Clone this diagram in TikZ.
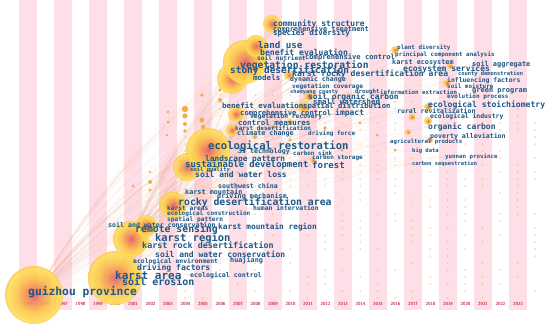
\documentclass[tikz,border=0pt]{standalone}
\usepackage{fontspec}
\setmonofont{DejaVu Sans Mono}
\definecolor{txt}{RGB}{28,88,136}
\definecolor{stripe}{RGB}{255,223,231}
\definecolor{yr}{RGB}{205,45,65}
\definecolor{lnk}{RGB}{240,160,130}
\definecolor{dotc}{RGB}{240,175,70}
\definecolor{cA}{RGB}{228,85,105}
\definecolor{cB}{RGB}{242,135,80}
\definecolor{cC}{RGB}{252,195,70}
\definecolor{cD}{RGB}{255,222,85}
\definecolor{cE}{RGB}{250,200,90}
\pgfdeclareradialshading{cnode}{\pgfpointorigin}{color(0bp)=(cA); color(6bp)=(cB); color(15bp)=(cC); color(23bp)=(cD); color(25bp)=(cE); color(50bp)=(cE)}
\pgfdeclarelayer{stripes}
\pgfdeclarelayer{links}
\pgfsetlayers{stripes,links,main}
\newcommand\kfont[1]{\fontsize{#1}{#1}\selectfont\ttfamily\bfseries}
\newcommand\kw[5]{\node[kw,font=\kfont{#4}] (#1) at (#2,#3) {#5};}
\tikzset{
  kw/.style={text=txt, inner sep=0pt, anchor=west},
  cnode/.style={circle, inner sep=0pt, shading=cnode, fill opacity=0.88, draw=none},
  yrlab/.style={text=yr, inner sep=0pt, font=\fontsize{4.5}{4.5}\selectfont\sffamily\bfseries},
  link/.style={draw=lnk, draw opacity=0.2, line width=0.3pt},
  farlink/.style={draw=lnk, draw opacity=0.1, line width=0.3pt},
  dot/.style={fill=dotc, fill opacity=0.85}
}
\begin{document}
\begin{tikzpicture}[x=1pt,y=-1pt]
\useasboundingbox (0,0) rectangle (550,324);
\begin{pgfonlayer}{stripes}
\fill[white] (0,0) rectangle (550,324);
\foreach \yy in {1995,1997,...,2023} {
  \fill[stripe] ({28+(\yy-1995)*17.5-8.75},0) rectangle ({28+(\yy-1995)*17.5+8.75},310);
}
\foreach \yy in {1995,...,2023} {
  \node[yrlab] (y\yy) at ({28+(\yy-1995)*17.5},304) {\yy};
}
\end{pgfonlayer}
% circle nodes
\node[cnode, minimum size=58] (cgz) at (34,295) {};
\node[cnode, minimum size=54] (cka) at (115,278) {};
\node[cnode, minimum size=36] (ckr) at (131,239) {};
\node[cnode, minimum size=22] (ckr2) at (146,226) {};
\node[cnode, minimum size=27] (crd) at (173,205) {};
\node[cnode, minimum size=28] (csd) at (187,167) {};
\node[cnode, minimum size=44] (cer) at (208,150) {};
\node[cnode, minimum size=30] (clu3) at (232,79) {};
\node[cnode, minimum size=44] (clu) at (245,62) {};
\node[cnode, minimum size=22] (clu2) at (256,46) {};
\node[cnode, minimum size=18] (ccs) at (272,24) {};
\node[cnode, minimum size=16] (cbe) at (236,114) {};
\node[cnode, minimum size=12] (ccm) at (232,130) {};
\node[cnode, minimum size=10] (ckrd) at (289,75) {};
\node[cnode, minimum size=10] (csoc) at (309,96) {};
\node[cnode, minimum size=12] (csdi) at (304,107) {};
\node[cnode, minimum size=8] (cpd) at (395,50) {};
\node[cnode, minimum size=6] (csa) at (450,66) {};
\node[cnode, minimum size=8] (cif) at (447,83) {};
\node[cnode, minimum size=8] (cest) at (428,107) {};
\node[cnode, minimum size=8] (coc) at (428,121) {};
\node[cnode, minimum size=6] (cpa) at (430,140) {};
\node[cnode, minimum size=7] (crr) at (412,117) {};
\node[cnode, minimum size=6] (cap) at (408,132) {};
\node[cnode, minimum size=6] (ccst) at (313,160) {};
\node[cnode, minimum size=6] (cdfo) at (290,122) {};
% keywords
\kw{tgz}{28}{292}{11.3}{guizhou province}
\kw{tka}{115}{275}{11}{karst area}
\kw{tse}{122}{282}{10}{soil erosion}
\kw{tec}{190}{275}{6.6}{ecological control}
\kw{tdf}{137}{268}{8.1}{driving factors}
\kw{tee}{133}{262}{6.4}{ecological environment}
\kw{thj}{230}{260}{6.8}{huajiang}
\kw{tswc}{155}{254}{8}{soil and water conservation}
\kw{tkrd}{142}{245}{8.4}{karst rock desertification}
\kw{tkr}{155}{238}{10.4}{karst region}
\kw{trs}{135}{230}{9.8}{remote sensing}
\kw{tswc2}{108}{225}{6.6}{soil and water conservation}
\kw{tkmr}{218}{227}{7.8}{karst mountain region}
\kw{tsp}{167}{220}{6.2}{spatial pattern}
\kw{tecn}{167}{214}{6}{ecological construction}
\kw{tkas}{167}{208}{6.2}{karst areas}
\kw{thi}{253}{208}{6.4}{human intervation}
\kw{trda}{178}{203}{9.8}{rocky desertification area}
\kw{tdm}{217}{196}{6.8}{driving mechanism}
\kw{tkm}{185}{192}{6.8}{karst mountain}
\kw{tswch}{218}{186}{6.6}{southwest china}
\kw{tswl}{195}{174}{8}{soil and water loss}
\kw{tsq}{190}{170}{5.5}{soil quality}
\kw{tsd}{185}{165}{8.9}{sustainable development}
\kw{tfo}{312}{165}{9}{forest}
\kw{tlp}{205}{159}{7.8}{landscape pattern}
\kw{tcst}{312}{158}{6}{carbon storage}
\kw{t3s}{238}{152}{6.6}{3s technology}
\kw{tcs}{293}{153}{5.9}{carbon sink}
\kw{ter}{208}{146}{10.6}{ecological restoration}
\kw{tcc}{237}{133}{6.7}{climate change}
\kw{tdfo}{308}{134}{6}{driving force}
\kw{tkd}{235}{128}{6}{karst desertification}
\kw{tcm}{238}{123}{7.5}{control measures}
\kw{tvr}{250}{117}{6.3}{vegetation recovery}
\kw{tcc2}{240}{113}{7.2}{comprehensive control}
\kw{tim}{335}{113}{8}{impact}
\kw{tbe}{222}{106}{7.5}{benefit evaluation}
\kw{tsdi}{303}{106}{7.25}{spatial distribution}
\kw{tsw}{313}{102}{7.4}{small watershed}
\kw{tsoc}{308}{97}{7.9}{soil organic carbon}
\kw{tsc}{290}{92}{5.3}{shaoyang county}
\kw{tdr}{355}{92}{5.8}{drought}
\kw{tie}{380}{92}{5.8}{information extraction}
\kw{tvc}{292}{87}{6.2}{vegetation coverage}
\kw{tdc}{290}{80}{6.6}{dynamic change}
\kw{tmo}{253}{78}{7.5}{models}
\kw{tkrda}{292}{74}{8.1}{karst rocky desertification area}
\kw{tsde}{230}{71}{9.4}{stony desertification}
\kw{tvre}{240}{66}{9.7}{vegetation restoration}
\kw{tsn}{257}{58}{6.2}{soil nutrient}
\kw{tcc3}{305}{57}{7.1}{comprehensive control}
\kw{tbe2}{260}{52}{8.1}{benefit evaluation}
\kw{tlu}{258}{45}{9.2}{land use}
\kw{tcst2}{273}{24}{8}{community structure}
\kw{tct}{273}{29}{6.9}{comprehensive treatment}
\kw{tspd}{273}{33}{7.5}{species diversity}
\kw{tpd}{397}{48}{5.9}{plant diversity}
\kw{tpca}{395}{55}{5.9}{principal component analysis}
\kw{tke}{392}{63}{6.8}{karst ecosystem}
\kw{tsa}{472}{64}{6.9}{soil aggregate}
\kw{tes}{403}{69}{8}{ecosystem services}
\kw{tcd}{458}{74}{5.4}{county demonstration}
\kw{tif}{447}{81}{6.4}{influencing factors}
\kw{tsm}{447}{86}{5.9}{soil moisture}
\kw{tgp}{472}{91}{7}{green program}
\kw{tep}{447}{97}{6}{evolution process}
\kw{tes2}{428}{105}{8.1}{ecological stoichiometry}
\kw{trr}{397}{111}{6.5}{rural revitalization}
\kw{tei}{430}{117}{6.4}{ecological industry}
\kw{toc}{428}{127}{8}{organic carbon}
\kw{tpa}{430}{137}{6.6}{poverty alleviation}
\kw{tap}{390}{142}{5.7}{agricultural products}
\kw{tbd}{412}{151}{5.5}{big data}
\kw{typ}{445}{157}{5.8}{yunnan province}
\kw{tcse}{412}{164}{5.4}{carbon sequestration}
% links and dots underneath
\begin{pgfonlayer}{links}
\foreach \h in {cgz,cka,ckr} {
  \foreach \t in {tec,thj,tswc,tkrd,tkmr,tsp,tecn,thi,trda,tdm,tkm,tswch,tswl,tsd,tfo,tlp,tcst,t3s,tcs,ter,tcc,tdfo,tkd,tcm,tvr,tcc2,tim,tbe,tsdi,tsw,tsoc,tsc,tdr,tvc,tdc,tmo,tkrda,tsde,tvre,tsn,tcc3,tbe2,tlu,tcst2,tct,tspd} {
    \path[link] (\h.center) to[bend left=10] (\t.west);
  }
  \foreach \t in {tie,tpd,tpca,tke,tes,tif,tes2,trr,toc,tpa,tap,typ,tcse} {
    \path[farlink] (\h.center) to[bend left=10] (\t.west);
  }
}
\foreach \h in {crd,csd,cer} {
  \foreach \t in {tfo,tcst,tcs,tdfo,tim,tsdi,tsw,tsoc,tdr,tvc,tdc,tkrda,tvre,tbe2,tlu,tcst2,tct} {
    \path[link] (\h.center) to[bend left=8] (\t.west);
  }
  \foreach \t in {tie,tpd,tpca,tke,tes,tsa,tcd,tif,tsm,tgp,tep,tes2,trr,tei,toc,tpa,tap,tbd,typ,tcse} {
    \path[farlink] (\h.center) to[bend left=8] (\t.west);
  }
}
\pgfmathsetseed{11}
\foreach \c in {0,...,20} {
  \foreach \r in {0,...,29} {
    \pgfmathsetmacro\rr{rnd}
    \ifdim\rr pt<0.5pt
      \fill[dot] ({185+\c*17.5},{95+\r*7}) circle (0.75);
    \fi
  }
}
\foreach \p/\s in {{185,109}/3.2,{185,116}/2.6,{202,120}/2.6,{203,127}/2.2,{185,124}/2,{185,131}/1.8,{168,112}/1.5,{168,122}/1.5,{150,182}/2,{150,190}/1.6,{133,186}/1.4,{150,172}/1.4,{167,135}/1.4,{220,100}/2,{220,90}/1.6,{202,95}/1.8,{255,137}/2,{273,127}/2,{290,140}/1.6,{325,128}/1.8,{342,150}/1.6,{360,123}/1.6,{377,135}/1.5,{395,150}/1.5}
  \fill[dotc] (\p) circle (\s);
\end{pgfonlayer}
\end{tikzpicture}
\end{document}
